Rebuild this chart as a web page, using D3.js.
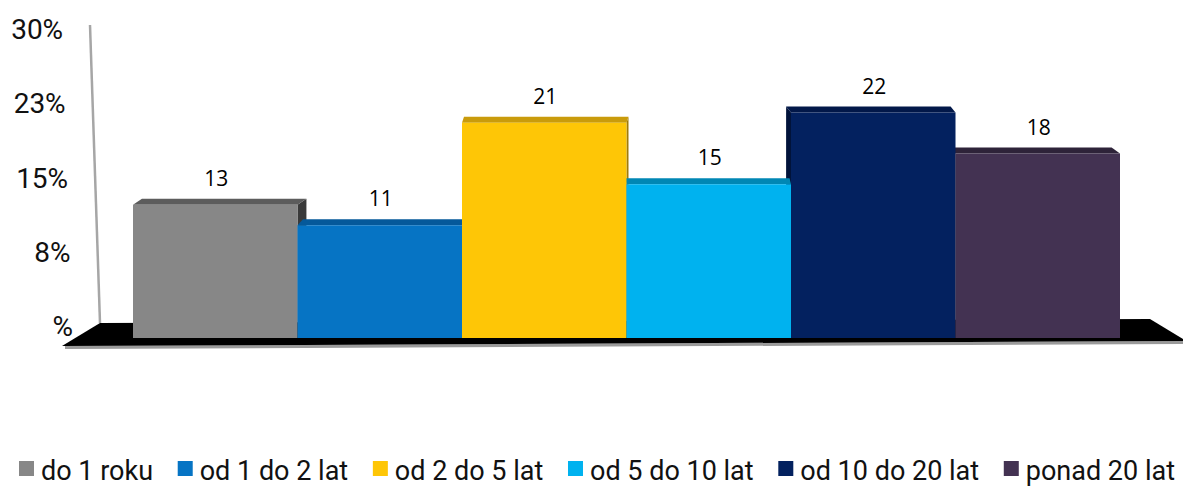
<!DOCTYPE html>
<html>
<head>
<meta charset="utf-8">
<script src="https://cdn.jsdelivr.net/npm/d3@7"></script>
<style>
  html, body { margin: 0; padding: 0; background: #fff; }
  svg { display: block; }
</style>
</head>
<body>
<svg id="chart" width="1183" height="488"></svg>
<script>
// ---- data ----
const categories = ["do 1 roku", "od 1 do 2 lat", "od 2 do 5 lat", "od 5 do 10 lat", "od 10 do 20 lat", "ponad 20 lat"];
const values = [13, 11, 21, 15, 22, 18];
const tickValues = [0, 7.5, 15, 22.5, 30];
const tickLabels = ["%", "8%", "15%", "23%", "30%"];

// ---- styles ----
const frontColors = ["#878787", "#0674C4", "#FEC606", "#00B2EF", "#03215F", "#433252"];
const capColors   = ["#5c5c5c", "#05599A", "#C99B0B", "#0087B4", "#021849", "#2E2339"];
const sideColors  = ["#3a3a3a", "#04487c", "#a07b08", "#006a8e", "#01133a", "#241b2d"];

const svg = d3.select("#chart");

const x = d3.scaleBand().domain(categories).range([133, 1120]).padding(0);
const yFront = d3.scaleLinear().domain([0, 30]).range([338, 30.5]);
const yBack = d3.scaleLinear().domain([0, 30]).range([326, 29]);

const vpX = 640, persp = 0.021, capDy = 6;

// floor
svg.append("polygon")
  .attr("points", [[65, 346], [1183, 341], [1183, 344], [65, 349]].join(" "))
  .attr("fill", "#9a9a9a");
svg.append("polygon")
  .attr("points", [[100, 323], [1150, 319], [1183, 339], [1183, 341], [62, 346]].join(" "))
  .attr("fill", "#000");

// slanted axis line
const axisX = y => 90 + (y - 25) * 10 / 298;
svg.append("line")
  .attr("x1", axisX(25)).attr("y1", 25)
  .attr("x2", axisX(323)).attr("y2", 323)
  .attr("stroke", "#a6a6a6").attr("stroke-width", 2.5);

// axis labels
svg.append("g").selectAll("text")
  .data(tickValues)
  .join("text")
  .attr("x", d => axisX(yBack(d)) - 27)
  .attr("y", d => yBack(d) + 10)
  .attr("text-anchor", "end")
  .attr("font-family", "Roboto, 'Liberation Sans', sans-serif")
  .attr("font-size", 28)
  .attr("fill", "#111")
  .text((d, i) => tickLabels[i]);

// bars
const bars = categories.map((c, i) => {
  const x0 = x(c), x1 = x(c) + x.bandwidth();
  const cx = (x0 + x1) / 2;
  return { c, i, v: values[i], x0, x1, cx, dx: (vpX - cx) * persp };
});

const order = bars.slice().sort((a, b) => Math.abs(b.cx - vpX) - Math.abs(a.cx - vpX));
const gBars = svg.append("g");

order.forEach(b => {
  const yt = yFront(b.v), yb = yFront(0);
  const sx = b.dx > 0 ? b.x1 : b.x0;
  gBars.append("polygon")
    .attr("points", [[sx, yt], [sx + b.dx, yt - capDy], [sx + b.dx, yb - capDy], [sx, yb]].join(" "))
    .attr("fill", sideColors[b.i]);
  gBars.append("polygon")
    .attr("points", [[b.x0, yt], [b.x0 + b.dx, yt - capDy], [b.x1 + b.dx, yt - capDy], [b.x1, yt]].join(" "))
    .attr("fill", capColors[b.i]);
});

// front faces on top
svg.append("g").selectAll("rect")
  .data(bars)
  .join("rect")
  .attr("x", d => d.x0)
  .attr("y", d => yFront(d.v))
  .attr("width", d => d.x1 - d.x0)
  .attr("height", d => yFront(0) - yFront(d.v))
  .attr("fill", d => frontColors[d.i]);

// value labels
svg.append("g").selectAll("text")
  .data(bars)
  .join("text")
  .attr("x", d => d.cx + 1)
  .attr("y", d => yFront(d.v) - 19)
  .attr("text-anchor", "middle")
  .attr("font-family", "'Open Sans', 'Noto Sans', sans-serif")
  .attr("font-size", 21)
  .attr("fill", "#000")
  .text(d => d.v);

// legend
const legend = svg.append("g");
const ly = 461, sq = 15, sqGap = 7, startX = 19, endX = 1175;
const items = categories.map((c, i) => {
  const t = legend.append("text")
    .attr("y", ly + sq + 4)
    .attr("font-family", "Roboto, 'Liberation Sans', sans-serif")
    .attr("font-size", 27)
    .attr("fill", "#111")
    .text(c);
  return { c, i, t, w: t.node().getComputedTextLength() };
});
const used = d3.sum(items, d => sq + sqGap + d.w);
const gap = (endX - startX - used) / (items.length - 1);
let lx = startX;
items.forEach(d => {
  legend.append("rect")
    .attr("x", lx).attr("y", ly).attr("width", sq).attr("height", sq)
    .attr("fill", frontColors[d.i]);
  d.t.attr("x", lx + sq + sqGap);
  lx += sq + sqGap + d.w + gap;
});
</script>
</body>
</html>
